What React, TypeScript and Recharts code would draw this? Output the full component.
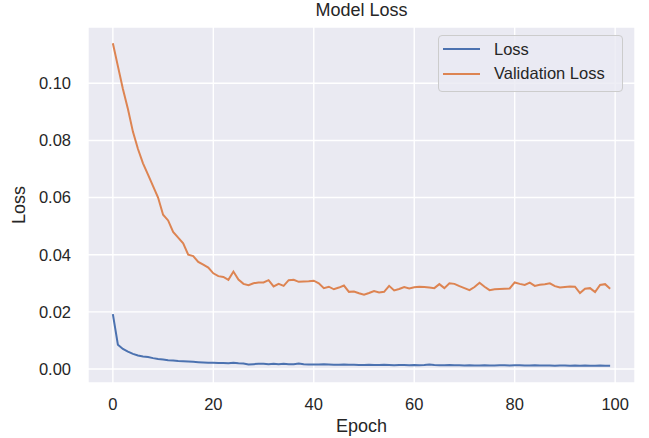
import { LineChart, Line, XAxis, YAxis, CartesianGrid, Legend } from 'recharts'

const FONT = '"Liberation Sans", Arial, sans-serif'
const TEXT = '#262626'

const EPOCHS = Array.from({ length: 100 }, (_, i) => i)

const LOSS = [
  0.0192, 0.0085, 0.007, 0.0061, 0.0053, 0.0047, 0.0044, 0.0042, 0.0038, 0.0035,
  0.0033, 0.0031, 0.003, 0.0028, 0.0027, 0.0026, 0.0025, 0.0024, 0.0023, 0.0022,
  0.0022, 0.0021, 0.0021, 0.002, 0.0022, 0.002, 0.0019, 0.0016, 0.0017, 0.0018,
  0.0018, 0.0017, 0.0018, 0.0017, 0.0018, 0.0017, 0.0017, 0.0019, 0.0017, 0.0016,
  0.0016, 0.0016, 0.0017, 0.0016, 0.0015, 0.0015, 0.0016, 0.0015, 0.0015, 0.0014,
  0.0014, 0.0015, 0.0014, 0.0014, 0.0015, 0.0014, 0.0013, 0.0014, 0.0014, 0.0013,
  0.0014, 0.0013, 0.0014, 0.0016, 0.0014, 0.0013, 0.0013, 0.0014, 0.0013, 0.0013,
  0.0012, 0.0013, 0.0012, 0.0012, 0.0013, 0.0012, 0.0012, 0.0013, 0.0013, 0.0012,
  0.0013, 0.0013, 0.0012, 0.0012, 0.0013, 0.0012, 0.0012, 0.0012, 0.0011, 0.0012,
  0.0012, 0.0011, 0.0012, 0.0011, 0.0012, 0.0011, 0.0011, 0.0012, 0.0011, 0.0011,
]

const VAL_LOSS = [
  0.114, 0.106, 0.098, 0.091, 0.083, 0.077, 0.072, 0.068, 0.064, 0.06,
  0.054, 0.052, 0.048, 0.046, 0.044, 0.04, 0.0395, 0.0375, 0.0365, 0.0355,
  0.0335, 0.0325, 0.0322, 0.0312, 0.0341, 0.0313, 0.0298, 0.0293, 0.03, 0.0303,
  0.0303, 0.0311, 0.0289, 0.0298, 0.0291, 0.0311, 0.0312, 0.0305, 0.0306, 0.0307,
  0.0309, 0.03, 0.0283, 0.0288, 0.0279, 0.0285, 0.0292, 0.027, 0.0271, 0.0265,
  0.026, 0.0266, 0.0273, 0.0268, 0.027, 0.0291, 0.0275, 0.028, 0.0287, 0.0282,
  0.0286, 0.0288, 0.0287, 0.0285, 0.0283, 0.0297, 0.0283, 0.03, 0.0298, 0.029,
  0.0283, 0.0276, 0.0287, 0.0302, 0.0288, 0.0276, 0.0279, 0.028, 0.0281, 0.0282,
  0.0303, 0.0298, 0.0294, 0.0302, 0.0291, 0.0295, 0.0297, 0.03, 0.029, 0.0285,
  0.0287, 0.0289, 0.0288, 0.0266, 0.0281, 0.0283, 0.0269, 0.0294, 0.0297, 0.0281,
]

const X_TICKS = [0, 20, 40, 60, 80, 100]
const Y_TICKS = [0, 0.02, 0.04, 0.06, 0.08, 0.1]

const data = EPOCHS.map((epoch, i) => ({
  epoch,
  loss: LOSS[i],
  val_loss: VAL_LOSS[i],
}))

function YLabel({ viewBox }: any) {
  const cy = viewBox.y + viewBox.height / 2
  return (
    <text
      x={25}
      y={cy}
      transform={`rotate(-90 25 ${cy})`}
      textAnchor="middle"
      fontSize={18}
      fontFamily={FONT}
      fill={TEXT}
    >
      Loss
    </text>
  )
}

function XLabel({ viewBox }: any) {
  const cx = viewBox.x + viewBox.width / 2
  return (
    <text x={cx} y={431.5} textAnchor="middle" fontSize={18} fontFamily={FONT} fill={TEXT}>
      Epoch
    </text>
  )
}

function LegendBox({ payload }: any) {
  return (
    <div
      style={{
        position: 'relative',
        width: 185,
        height: 57,
        boxSizing: 'border-box',
        border: '1px solid #cccccc',
        borderRadius: 4,
        background: 'rgba(234,234,242,0.8)',
        fontFamily: FONT,
        fontSize: 16.5,
        color: TEXT,
      }}
    >
      {(payload || []).map((item: any, i: number) => (
        <div
          key={item.value}
          style={{
            position: 'absolute',
            left: 4,
            top: 1 + i * 24.4,
            height: 24.4,
            display: 'flex',
            alignItems: 'center',
            whiteSpace: 'nowrap',
          }}
        >
          <span style={{ display: 'inline-block', width: 37, height: 2, background: item.color }} />
          <span style={{ marginLeft: 14 }}>{item.value}</span>
        </div>
      ))}
    </div>
  )
}

export default function App() {
  return (
    <div style={{ position: 'absolute', left: 0, top: 0, width: 649, height: 438, background: '#fff' }}>
      <div
        style={{
          position: 'absolute',
          left: 88,
          top: 1,
          width: 547,
          textAlign: 'center',
          fontFamily: FONT,
          fontSize: 18,
          lineHeight: 1,
          color: TEXT,
        }}
      >
        Model Loss
      </div>
      <LineChart width={649} height={438} data={data} margin={{ top: 27, right: 14, bottom: 0, left: 0 }}>
        <CartesianGrid fill="#EAEAF2" stroke="#ffffff" strokeWidth={1.4} />
        <XAxis
          dataKey="epoch"
          type="number"
          domain={[-4.95, 103.95]}
          ticks={X_TICKS}
          height={55}
          axisLine={false}
          tickLine={false}
          tickSize={0}
          tickMargin={15}
          tick={{ fontSize: 16.5, fontFamily: FONT, fill: TEXT }}
          label={<XLabel />}
        />
        <YAxis
          type="number"
          domain={[-0.0049, 0.1197]}
          ticks={Y_TICKS}
          width={88}
          axisLine={false}
          tickLine={false}
          tickSize={0}
          tickMargin={17}
          tickFormatter={(v: number) => v.toFixed(2)}
          tick={{ fontSize: 16.5, fontFamily: FONT, fill: TEXT }}
          label={<YLabel />}
        />
        <Legend
          layout="vertical"
          align="center"
          verticalAlign="middle"
          content={<LegendBox />}
          wrapperStyle={{ top: 35, left: 438, width: 185, height: 57 }}
        />
        <Line
          type="linear"
          dataKey="loss"
          name="Loss"
          stroke="#4C72B0"
          strokeWidth={2}
          dot={false}
          isAnimationActive={false}
        />
        <Line
          type="linear"
          dataKey="val_loss"
          name="Validation Loss"
          stroke="#DD8452"
          strokeWidth={2}
          dot={false}
          isAnimationActive={false}
        />
      </LineChart>
    </div>
  )
}
